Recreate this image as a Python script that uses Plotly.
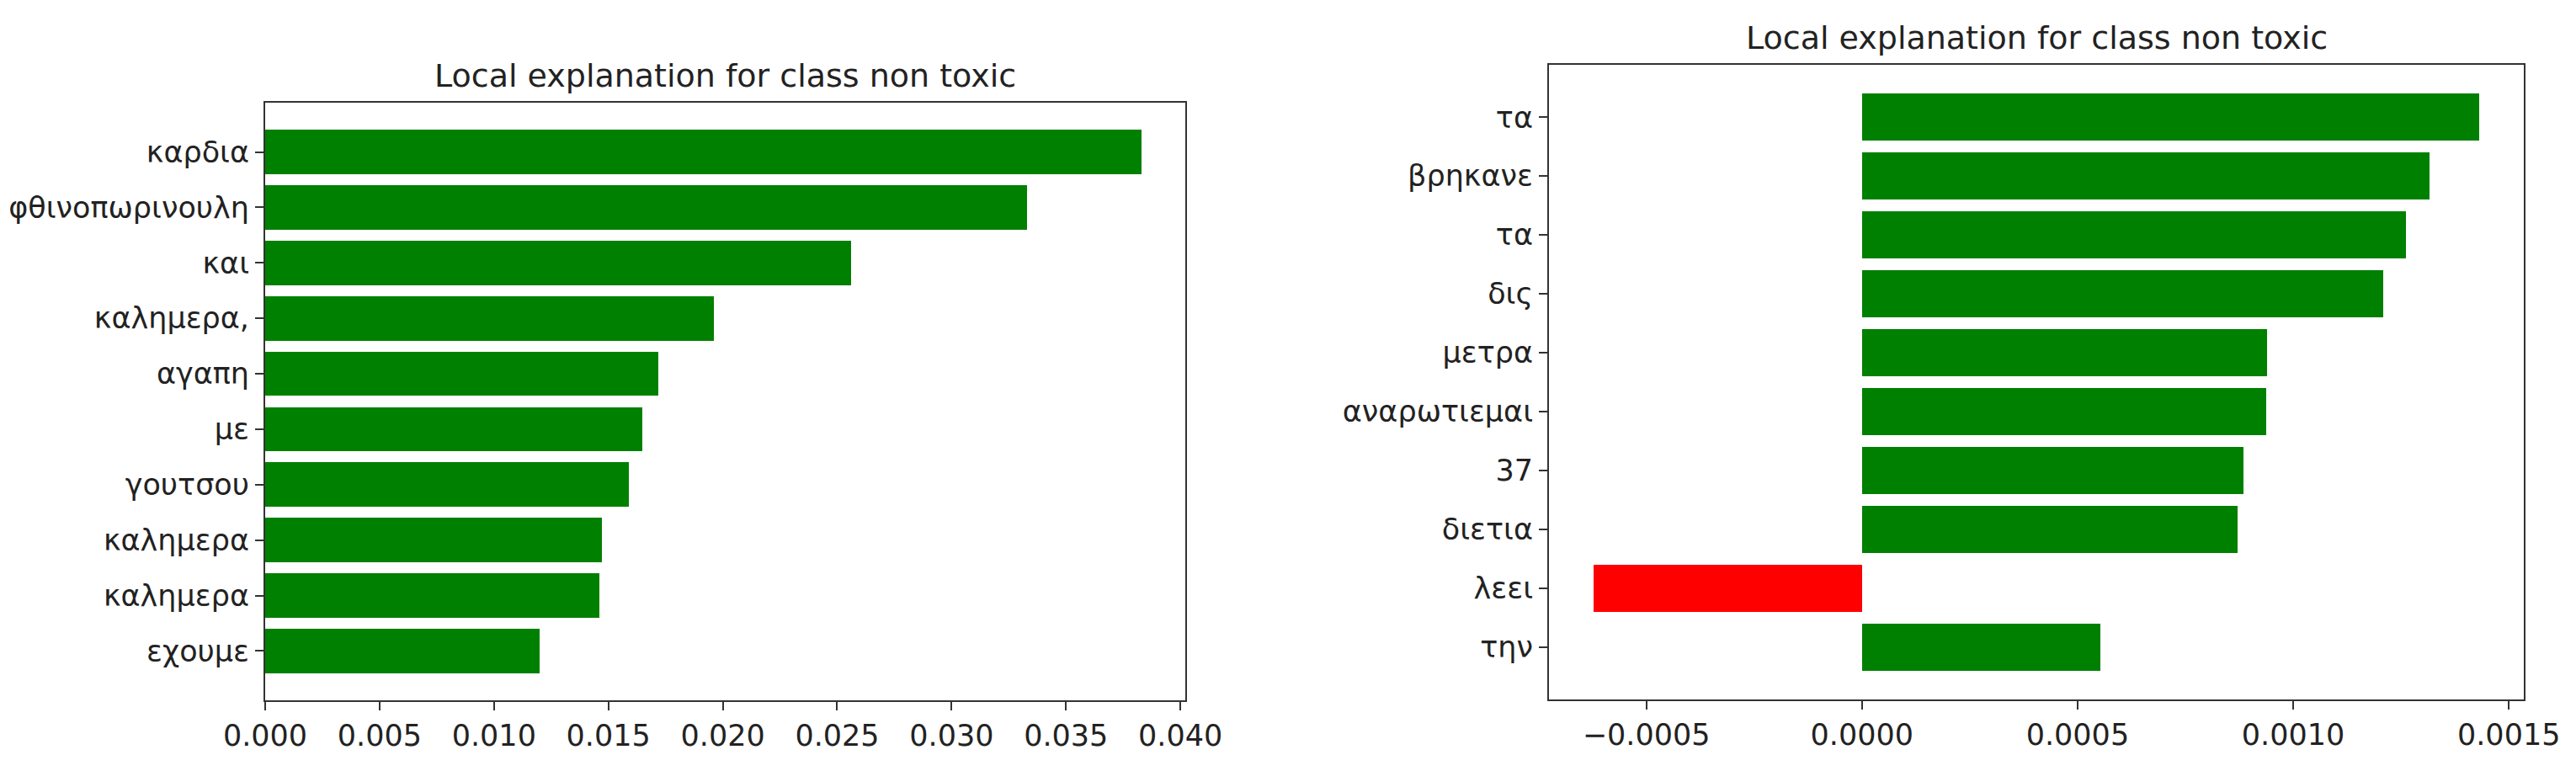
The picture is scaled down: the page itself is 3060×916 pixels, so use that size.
import plotly.graph_objects as go

# Left panel: words (top to bottom) and their weights
left_words = ["καρδια", "φθινοπωρινουλη", "και", "καλημερα,", "αγαπη",
              "με", "γουτσου", "καλημερα", "καλημερα", "εχουμε"]
left_values = [0.0383, 0.0333, 0.0256, 0.0196, 0.0172,
               0.0165, 0.0159, 0.0147, 0.0146, 0.0120]

# Right panel
right_words = ["τα", "βρηκανε", "τα", "δις", "μετρα",
               "αναρωτιεμαι", "37", "διετια", "λεει", "την"]
right_values = [0.001432, 0.001316, 0.001261, 0.001209, 0.000940,
                0.000938, 0.000885, 0.000872, -0.000623, 0.000552]

title_text = "Local explanation for class non toxic"
FONT = "DejaVu Sans"
TXT = "#222222"
LINE = "#333333"


def colors(vals):
    return ["green" if v >= 0 else "red" for v in vals]


def pad_range(vals):
    lo, hi = min(0, min(vals)), max(0, max(vals))
    m = 0.05 * (hi - lo)
    return [lo - m if lo < 0 else 0, hi + m]


fig = go.Figure()

n = len(left_words)
pos = list(range(n))[::-1]  # first item on top

fig.add_trace(go.Bar(x=left_values, y=pos, orientation="h", width=0.8,
                     marker=dict(color=colors(left_values), line=dict(width=0)),
                     xaxis="x", yaxis="y", showlegend=False))
fig.add_trace(go.Bar(x=right_values, y=pos, orientation="h", width=0.8,
                     marker=dict(color=colors(right_values), line=dict(width=0)),
                     xaxis="x2", yaxis="y2", showlegend=False))

axis_common = dict(showline=True, mirror=True, linecolor=LINE, linewidth=2,
                   ticks="outside", ticklen=10, tickwidth=2, tickcolor=LINE,
                   showgrid=False, zeroline=False, automargin=False,
                   tickfont=dict(family=FONT, size=35, color=TXT))

left_dom_x = [315 / 3060, 1408 / 3060]
left_dom_y = [1 - 832 / 916, 1 - 122 / 916]
right_dom_x = [1840 / 3060, 2998 / 3060]
right_dom_y = [1 - 831 / 916, 1 - 77 / 916]

yr = [-0.89, n - 1 + 0.89]

fig.update_layout(
    width=3060, height=916,
    margin=dict(l=0, r=0, t=0, b=0),
    paper_bgcolor="white", plot_bgcolor="white",
    bargap=0,
    xaxis=dict(domain=left_dom_x, anchor="y", range=pad_range(left_values),
               dtick=0.005, tick0=0, tickformat=".3f", **axis_common),
    yaxis=dict(domain=left_dom_y, anchor="x", range=yr,
               tickvals=pos, ticktext=left_words, **axis_common),
    xaxis2=dict(domain=right_dom_x, anchor="y2", range=pad_range(right_values),
                dtick=0.0005, tick0=0, tickformat=".4f", **axis_common),
    yaxis2=dict(domain=right_dom_y, anchor="x2", range=yr,
                tickvals=pos, ticktext=right_words, **axis_common),
    annotations=[
        dict(text=title_text, xref="paper", yref="paper",
             x=sum(left_dom_x) / 2, y=left_dom_y[1], xanchor="center",
             yanchor="bottom", yshift=8, showarrow=False,
             font=dict(family=FONT, size=38, color=TXT)),
        dict(text=title_text, xref="paper", yref="paper",
             x=sum(right_dom_x) / 2, y=right_dom_y[1], xanchor="center",
             yanchor="bottom", yshift=8, showarrow=False,
             font=dict(family=FONT, size=38, color=TXT)),
    ],
)

# page body has a default 8px margin; drop it so the figure sits at (0, 0)
fig.write_html("out.html", config={"displayModeBar": False},
               post_script="document.body.style.margin='0';")
